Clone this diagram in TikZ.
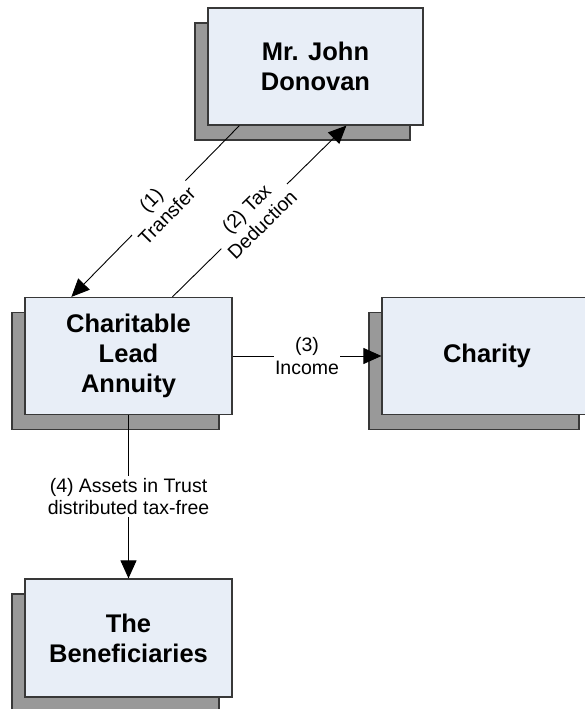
\documentclass[tikz,border=0pt]{standalone}
\usepackage{fontspec}
\setmainfont{Liberation Sans}
\usetikzlibrary{arrows.meta,shadows,calc}
\definecolor{boxfill}{HTML}{E8EEF7}
\definecolor{shadowgray}{HTML}{999999}
\definecolor{edgegray}{HTML}{383838}
\tikzset{
  party/.style={draw=edgegray, line width=1.2pt, fill=boxfill, align=center,
    minimum width=207pt, minimum height=117pt, inner sep=0pt,
    font=\fontsize{25.5}{30}\selectfont\bfseries,
    general shadow={fill=shadowgray, draw=edgegray, line width=1.2pt,
      shadow xshift=-13pt, shadow yshift=-15pt}},
  flow/.style={draw=black, line width=0.9pt, -{Triangle[length=18pt,width=16pt]}},
  flowlabel/.style={fill=white, align=center, inner sep=2pt,
    font=\fontsize{19.5}{22.5}\selectfont}
}
\begin{document}
\begin{tikzpicture}[x=1pt,y=1pt]
\useasboundingbox (0,0) rectangle (584,709);

% parties
\node[party, minimum width=215pt] (donovan) at (315.5,642.5) {Mr. John\\Donovan};
\node[party] (cla) at (128.5,353) {Charitable\\Lead\\Annuity};
\node[party, minimum width=210pt] (charity) at (487,353) {Charity};
\node[party, minimum height=118pt] (benef) at (128.5,71) {The\\Beneficiaries};

% flows between the parties
\draw[flow] ($(donovan.south west)+(32,0)$) -- ($(cla.north west)+(47,0)$)
  node[flowlabel, pos=0.48, sloped] {(1)\\Transfer};
\draw[flow] ($(cla.north west)+(148,0)$) -- ($(donovan.south west)+(139,0)$)
  node[flowlabel, pos=0.47, sloped] {(2) Tax\\Deduction};
\draw[flow] (cla.east) -- (charity.west)
  node[flowlabel, midway, inner sep=1.5pt] {(3)\\Income};
\draw[flow] (cla.south) -- (benef.north)
  node[flowlabel, midway] {(4) Assets in Trust\\distributed tax-free};
\end{tikzpicture}
\end{document}
